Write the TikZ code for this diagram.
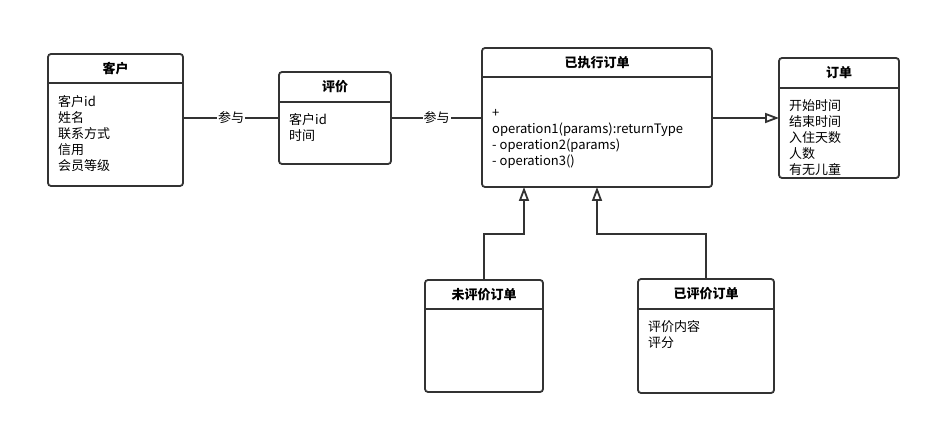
\documentclass[tikz,border=0pt]{standalone}
\usepackage{fontspec}
\setmainfont{Noto Sans CJK SC}
\usepackage{xcolor}
\usepackage{tikz}
\usetikzlibrary{arrows.meta,positioning}
\definecolor{umlline}{HTML}{333333}

\begin{document}
\begin{tikzpicture}[x=1pt,y=-1pt,
    classbox/.style={draw=umlline,line width=1.8pt,rounded corners=3pt,fill=white,inner sep=0pt,outer sep=0pt},
    classline/.style={draw=umlline,line width=1.8pt},
    classtitle/.style={font=\fontsize{13}{16}\selectfont\bfseries,inner sep=0pt},
    classbody/.style={font=\fontsize{13}{16}\selectfont,align=left,inner sep=0pt,anchor=north west},
    linklabel/.style={font=\fontsize{13}{16}\selectfont,fill=white,inner sep=1pt},
    inherit/.style={classline,-{Triangle[open,length=14pt,width=10pt]}}]
    \useasboundingbox (0,0) rectangle (930,425);

    % classes
    \node[classbox,minimum width=135pt,minimum height=132pt] (kehu) at (115.5,120) {};
    \node[classbox,minimum width=112pt,minimum height=92pt] (pingjia) at (335,118) {};
    \node[classbox,minimum width=230pt,minimum height=139pt] (yzx) at (597,117.5) {};
    \node[classbox,minimum width=120pt,minimum height=120pt] (dingdan) at (839,118) {};
    \node[classbox,minimum width=118pt,minimum height=112pt] (weipj) at (484,336) {};
    \node[classbox,minimum width=136pt,minimum height=114pt] (yipj) at (706,336) {};

    % headers
    \draw[classline] ([yshift=-29pt]kehu.north west) -- ([yshift=-29pt]kehu.north east);
    \draw[classline] ([yshift=-30pt]pingjia.north west) -- ([yshift=-30pt]pingjia.north east);
    \draw[classline] ([yshift=-29pt]yzx.north west) -- ([yshift=-29pt]yzx.north east);
    \draw[classline] ([yshift=-30pt]dingdan.north west) -- ([yshift=-30pt]dingdan.north east);
    \draw[classline] ([yshift=-29pt]weipj.north west) -- ([yshift=-29pt]weipj.north east);
    \draw[classline] ([yshift=-30pt]yipj.north west) -- ([yshift=-30pt]yipj.north east);

    \node[classtitle] (kehu-t) at (115.5,68.5) {客户};
    \node[classtitle] (pingjia-t) at (335,87) {评价};
    \node[classtitle] (yzx-t) at (597,62.5) {已执行订单};
    \node[classtitle] (dingdan-t) at (839,73) {订单};
    \node[classtitle] (weipj-t) at (484,294.5) {未评价订单};
    \node[classtitle] (yipj-t) at (706,294) {已评价订单};

    \node[classbody] (kehu-b) at (58,95) {客户id\\姓名\\联系方式\\信用\\会员等级};
    \node[classbody] (pingjia-b) at (289,113) {客户id\\时间};
    \node[classbody] (yzx-b) at (492,109) {+\\operation1(params):returnType\\- operation2(params)\\- operation3()};
    \node[classbody] (dingdan-b) at (789,99) {开始时间\\结束时间\\入住天数\\人数\\有无儿童};
    \node[classbody] (yipj-b) at (648,320) {评价内容\\评分};

    % links
    \draw[classline] (kehu.east |- pingjia.west) -- node[linklabel] (lab1) {参与} (pingjia.west);
    \draw[classline] (pingjia.east) -- node[linklabel] (lab2) {参与} (pingjia.east -| yzx.west);
    \draw[inherit] (yzx.east |- dingdan.west) -- (dingdan.west);

    \coordinate (j1) at (524,234);
    \coordinate (j2) at (597,234);
    \draw[inherit] (weipj.north) |- (j1) -- (j1 |- yzx.south);
    \draw[inherit] (yipj.north) |- (j2) -- (j2 |- yzx.south);

\end{tikzpicture}
\end{document}
